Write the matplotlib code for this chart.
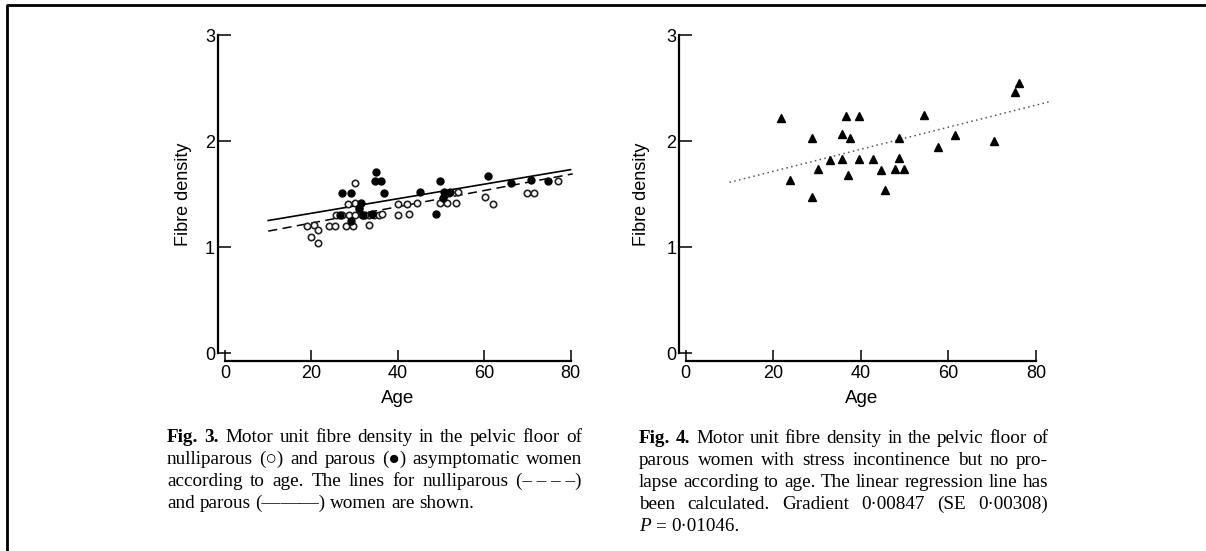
import matplotlib
matplotlib.use('Agg')
import matplotlib.pyplot as plt
from matplotlib.lines import Line2D

W, H = 1206, 551

# Fig. 3 - nulliparous (open) and parous (filled)
nulli_age = [19.0, 20.5, 20.0, 21.5, 21.5, 24.0, 25.4, 28.1, 29.6, 30.1, 28.4, 30.0,
             25.7, 27.1, 28.6, 30.2, 31.7, 33.3, 34.4, 35.7, 33.3, 31.0, 40.0, 40.0,
             42.2, 42.5, 44.4, 49.8, 51.9, 51.5, 53.4, 53.9, 60.1, 62.0, 69.8, 71.5,
             77.1, 32.5, 36.3]
nulli_fd = [1.20, 1.21, 1.09, 1.16, 1.04, 1.20, 1.20, 1.20, 1.20, 1.60, 1.41, 1.42,
            1.30, 1.30, 1.30, 1.30, 1.30, 1.30, 1.30, 1.30, 1.21, 1.36, 1.41, 1.30,
            1.41, 1.31, 1.42, 1.42, 1.51, 1.42, 1.42, 1.52, 1.47, 1.41, 1.51, 1.51,
            1.62, 1.30, 1.31]
parous_age = [27.1, 29.1, 35.0, 34.7, 36.1, 36.9, 31.5, 29.1, 26.6, 31.9, 31.0, 34.1,
              45.1, 49.7, 48.9, 50.7, 52.0, 50.5, 60.9, 66.1, 70.9, 74.7]
parous_fd = [1.51, 1.51, 1.71, 1.62, 1.62, 1.51, 1.42, 1.245, 1.30, 1.30, 1.365, 1.31,
             1.52, 1.62, 1.31, 1.52, 1.52, 1.46, 1.67, 1.60, 1.63, 1.62]
parous_line_age = [10, 80]
parous_line_fd = [1.25, 1.73]
nulli_line_age = [10, 80.5]
nulli_line_fd = [1.15, 1.69]

# Fig. 4 - stress incontinence
si_age = [21.7, 23.8, 28.9, 28.9, 30.1, 33.0, 35.8, 35.8, 36.6, 37.1, 37.6, 39.6, 39.6,
          42.8, 44.6, 45.4, 47.9, 48.6, 48.6, 49.9, 54.3, 57.5, 61.4, 70.4, 75.2, 76.1]
si_fd = [2.22, 1.63, 2.03, 1.47, 1.74, 1.82, 2.07, 1.83, 2.24, 1.68, 2.03, 2.24, 1.83,
         1.83, 1.73, 1.54, 1.74, 2.03, 1.84, 1.74, 2.25, 1.94, 2.06, 2.00, 2.46, 2.55]
reg_age = [10, 83]
reg_fd = [1.61, 2.37]

xticks = [0, 20, 40, 60, 80]
yticks = [0, 1, 2, 3]

cap3 = ["Fig. 3. Motor unit fibre density in the pelvic floor of",
        "nulliparous (\u25cb) and parous (\u25cf) asymptomatic women",
        "according to age. The lines for nulliparous (\u2013\u00a0\u2013\u00a0\u2013\u00a0\u2013)",
        "and parous (\u2014\u2014\u2014) women are shown."]
cap4 = ["Fig. 4. Motor unit fibre density in the pelvic floor of",
        "parous women with stress incontinence but no pro-",
        "lapse according to age. The linear regression line has",
        "been calculated. Gradient 0\u00b700847 (SE 0\u00b700308)",
        "P = 0\u00b701046."]

plt.rcParams['font.family'] = ['Liberation Sans', 'DejaVu Sans']

fig = plt.figure(figsize=(W / 100, H / 100), dpi=100)


def setup(ax, xlim):
    ax.set_xlim(*xlim)
    ax.set_ylim(-0.075, 3.05)
    for s in ['top', 'right']:
        ax.spines[s].set_visible(False)
    ax.spines['left'].set_bounds(0, 3)
    ax.spines['bottom'].set_bounds(0, 80)
    for s in ['left', 'bottom']:
        ax.spines[s].set_linewidth(1.6)
    ax.set_xticks(xticks)
    ax.set_yticks(yticks)
    ax.tick_params(axis='y', direction='in', length=9, width=1.1, labelsize=13, pad=2)
    ax.tick_params(axis='x', direction='in', length=8, width=1.1, labelsize=13, pad=3)
    ax.set_xlabel('Age', fontsize=13.5)
    ax.set_ylabel('Fibre density', fontsize=13)


# axes placed in pixel terms
ax1 = fig.add_axes([217.7 / W, (H - 361) / H, 361.5 / W, 331.3 / H])
setup(ax1, (-1.7, 82))
ax1.plot(parous_line_age, parous_line_fd, color='black', lw=1.2)
ax1.plot(nulli_line_age, nulli_line_fd, color='black', lw=1.1, ls=(0, (6, 3.5)))
ax1.plot(nulli_age, nulli_fd, ls='none', marker='o', ms=4.6, mfc='white', mec='#222', mew=1.2)
ax1.plot(parous_age, parous_fd, ls='none', marker='o', ms=5, mfc='black', mec='black')
ax1.yaxis.set_label_coords(-0.071, 0.504)
ax1.xaxis.set_label_coords(0.498, -0.087)

ax2 = fig.add_axes([679.1 / W, (H - 361) / H, 374.5 / W, 331.3 / H])
setup(ax2, (-1.5, 84))
ax2.plot(reg_age, reg_fd, color='#555', lw=1.1, ls=(0, (1, 2.2)))
ax2.plot(si_age, si_fd, ls='none', marker='^', ms=6, mfc='black', mec='black')
ax2.yaxis.set_label_coords(-0.078, 0.504)
ax2.xaxis.set_label_coords(0.486, -0.087)

# frame round the scanned page
fig.add_artist(Line2D([7 / W, 7 / W, 1], [0, 1 - 5 / H, 1 - 5 / H],
                      transform=fig.transFigure, color='black', lw=2))


def caption(lines, x0, x1, y0, dy, size=13.8):
    renderer = fig.canvas.get_renderer()
    # CJK font only supplies the larger circle glyphs
    fam = ['Liberation Serif', 'Noto Sans CJK JP', 'DejaVu Sans']
    for i, line in enumerate(lines):
        words = line.split(' ')
        texts = []
        for j, w in enumerate(words):
            weight = 'bold' if (i == 0 and j < 2) else 'normal'
            style = 'italic' if w == 'P' else 'normal'
            t = fig.text(0, 0, w, family=fam, fontsize=size, weight=weight,
                         style=style, va='baseline', ha='left')
            texts.append(t)
        widths = [t.get_window_extent(renderer).width for t in texts]
        if i == len(lines) - 1 or len(words) == 1:
            gap = 0.25 * size * 100 / 72
        else:
            gap = (x1 - x0 - sum(widths)) / (len(words) - 1)
        x = x0
        y = y0 + i * dy
        for t, w in zip(texts, widths):
            t.set_position((x / W, 1 - y / H))
            x += w + gap


caption(cap3, 167, 582, 442, 22)
caption(cap4, 639, 1048, 443, 22)

fig.savefig('out.png', dpi=100)
